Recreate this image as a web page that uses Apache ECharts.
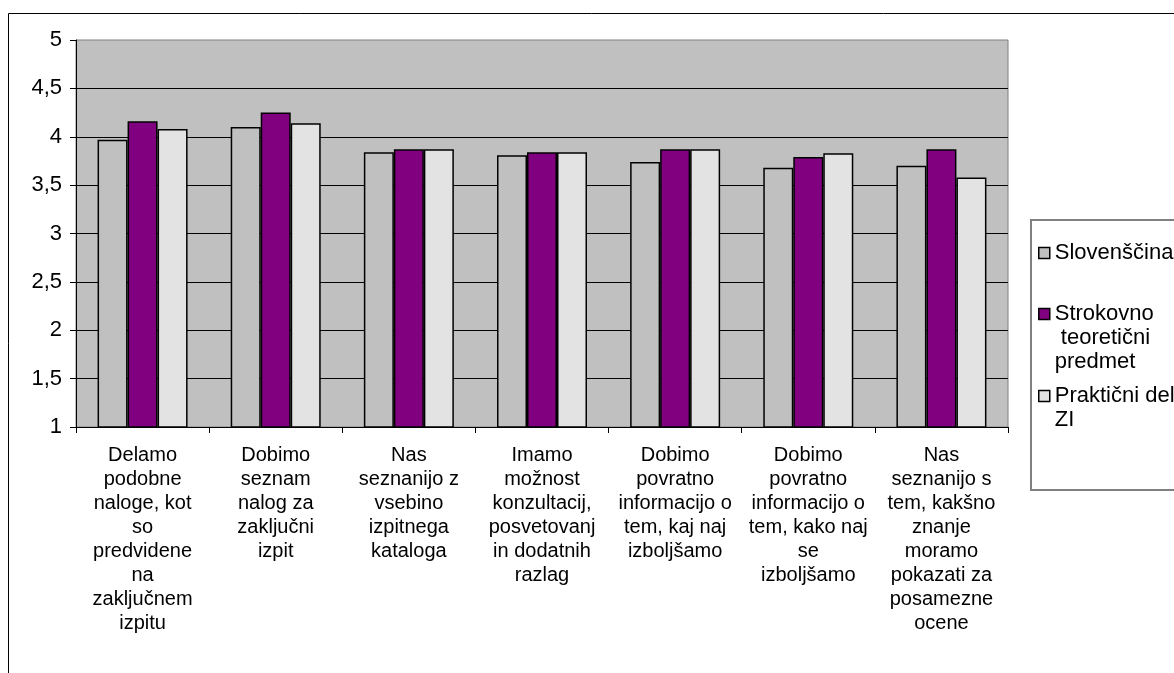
<!DOCTYPE html>
<html>
<head>
<meta charset="utf-8">
<script src="https://cdn.jsdelivr.net/npm/echarts@6/dist/echarts.min.js"></script>
<style>
html,body{margin:0;padding:0;background:#fff;}
#c{width:1174px;height:673px;}
</style>
</head>
<body>
<div id="c"></div>
<script>
var categories = [
  "Delamo\npodobne\nnaloge, kot\nso\npredvidene\nna\nzaključnem\nizpitu",
  "Dobimo\nseznam\nnalog za\nzaključni\nizpit",
  "Nas\nseznanijo z\nvsebino\nizpitnega\nkataloga",
  "Imamo\nmožnost\nkonzultacij,\nposvetovanj\nin dodatnih\nrazlag",
  "Dobimo\npovratno\ninformacijo o\ntem, kaj naj\nizboljšamo",
  "Dobimo\npovratno\ninformacijo o\ntem, kako naj\nse\nizboljšamo",
  "Nas\nseznanijo s\ntem, kakšno\nznanje\nmoramo\npokazati za\nposamezne\nocene"
];
var seriesNames = ["Slovenščina", "Strokovno\n teoretični\npredmet", "Praktični del\nZI"];
var slovenscina = [3.97, 4.10, 3.84, 3.81, 3.74, 3.68, 3.70];
var strokovno = [4.16, 4.25, 3.87, 3.84, 3.87, 3.79, 3.87];
var prakticni = [4.08, 4.14, 3.87, 3.84, 3.87, 3.83, 3.58];
var colors = ["#C0C0C0", "#800080", "#E3E3E3"];

var FONT = "'Liberation Sans', Arial, sans-serif";
var chart = echarts.init(document.getElementById('c'), null, {renderer: 'canvas'});

// prepend blank lines so the legend icon lines up with the first text line
function mkLegend(i, top) {
  var lines = seriesNames[i].split('\n').length;
  var pre = new Array(lines).join('\n');
  return {
    show: true,
    orient: 'vertical',
    left: 1038,
    top: top,
    padding: 0,
    itemWidth: 11,
    itemHeight: 11,
    itemGap: 0,
    icon: 'rect',
    selectedMode: false,
    data: [seriesNames[i]],
    formatter: function (name) { return pre + name; },
    itemStyle: {borderColor: '#000', borderWidth: 1.5},
    textStyle: {fontFamily: FONT, fontSize: 22, color: '#000', lineHeight: 24}
  };
}

var datasets = [slovenscina, strokovno, prakticni];
var series = datasets.map(function (d, i) {
  return {
    name: seriesNames[i],
    type: 'bar',
    data: d,
    barWidth: 30,
    barGap: '0%',
    itemStyle: {color: colors[i], borderColor: '#000', borderWidth: 1.5},
    emphasis: {disabled: true},
    animation: false
  };
});

chart.setOption({
  animation: false,
  backgroundColor: '#fff',
  graphic: [
    {type: 'rect', shape: {x: 8.5, y: 13.5, width: 1300, height: 800}, style: {fill: 'none', stroke: '#000', lineWidth: 1}, silent: true},
    {type: 'rect', shape: {x: 1031, y: 220, width: 300, height: 270}, style: {fill: '#fff', stroke: '#808080', lineWidth: 2}, silent: true, z: -1}
  ],
  legend: [mkLegend(0, 241), mkLegend(1, 254), mkLegend(2, 360)],
  grid: {
    left: 76, top: 40, width: 932, height: 387,
    show: true, backgroundColor: '#C0C0C0', borderColor: '#808080', borderWidth: 1
  },
  xAxis: {
    type: 'category',
    data: categories,
    boundaryGap: true,
    axisLine: {lineStyle: {color: '#000', width: 1}},
    axisTick: {show: true, length: 6, lineStyle: {color: '#000'}},
    axisLabel: {interval: 0, fontFamily: FONT, fontSize: 20, color: '#000', lineHeight: 24, margin: 16}
  },
  yAxis: {
    type: 'value',
    min: 1, max: 5, interval: 0.5,
    axisLine: {show: true, lineStyle: {color: '#000', width: 1}},
    axisTick: {show: true, length: 6, lineStyle: {color: '#000'}},
    splitLine: {show: true, showMaxLine: false, lineStyle: {color: '#000', width: 1}},
    axisLabel: {
      fontFamily: FONT, fontSize: 22, color: '#000', margin: 14,
      formatter: function (v) { return String(v).replace('.', ','); }
    }
  },
  series: series
});
</script>
</body>
</html>
